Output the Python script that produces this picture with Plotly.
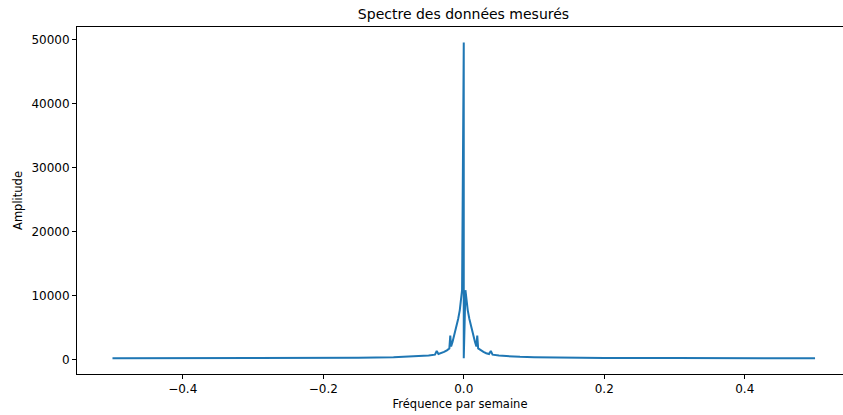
import plotly.graph_objects as go

# Frequencies (per week) and amplitudes
freq_pos = [0.0024, 0.004, 0.0057, 0.008, 0.010, 0.0117, 0.014, 0.016, 0.018,
            0.0192, 0.0205, 0.024, 0.028, 0.032, 0.036, 0.0385, 0.041,
            0.05, 0.06, 0.08, 0.10, 0.15, 0.2, 0.3, 0.4, 0.5]
amp_pos = [10800, 9100, 7650, 6300, 5300, 4500, 3500, 2700, 2000,
           3700, 1700, 1400, 1150, 950, 820, 1300, 720,
           580, 480, 380, 320, 240, 210, 185, 175, 170]

freq_neg = [-0.5, -0.4, -0.3, -0.2, -0.15, -0.10, -0.08, -0.06, -0.05,
            -0.041, -0.0385, -0.036, -0.032, -0.028, -0.024, -0.0205, -0.0192,
            -0.018, -0.016, -0.014, -0.0117, -0.010, -0.008, -0.0057, -0.004, -0.0024]
amp_neg = [170, 175, 185, 210, 240, 320, 380, 480, 580,
           720, 1300, 820, 950, 1150, 1400, 1700, 3700,
           2000, 2700, 3500, 4500, 5300, 6300, 7650, 9100, 10800]

freq_center = [0.0, 0.0]
amp_center = [49500, 150]

freqs = freq_neg + freq_center + freq_pos
amps = amp_neg + amp_center + amp_pos

x_ticks = [-0.4, -0.2, 0.0, 0.2, 0.4]
x_tick_labels = ["\u22120.4", "\u22120.2", "0.0", "0.2", "0.4"]
y_ticks = [0, 10000, 20000, 30000, 40000, 50000]

fig = go.Figure()
fig.add_trace(go.Scatter(
    x=freqs, y=amps, mode="lines",
    line=dict(color="#1f77b4", width=2),
    showlegend=False, hoverinfo="skip",
))

font = "DejaVu Sans"
fig.update_layout(
    width=843, height=415,
    margin=dict(l=77, r=0, t=27, b=41, autoexpand=False),
    paper_bgcolor="white", plot_bgcolor="white",
    font=dict(family=font, size=12, color="black"),
    title=dict(text="Spectre des données mesurés", x=463.5 / 843, xref="container",
               xanchor="center", y=1 - 14 / 415, yref="container", yanchor="middle",
               font=dict(family=font, size=14, color="black")),
)
fig.update_xaxes(
    range=[-0.5505, 0.5398], showgrid=False, zeroline=False,
    showline=True, linecolor="black", linewidth=1, mirror=True,
    ticks="outside", ticklen=4, tickcolor="black", tickwidth=1,
    tickvals=x_ticks, ticktext=x_tick_labels,
    tickfont=dict(family=font, size=12),
    title=dict(text="Fréquence par semaine", standoff=4, font=dict(family=font, size=11.5)),
    automargin=False,
)
fig.update_yaxes(
    range=[-2297, 51922], showgrid=False, zeroline=False,
    showline=True, linecolor="black", linewidth=1,
    ticks="outside", ticklen=4, tickcolor="black", tickwidth=1,
    tickvals=y_ticks, tickformat="d",
    tickfont=dict(family=font, size=12),
    title=dict(text="Amplitude", standoff=6, font=dict(family=font, size=11.5)),
    automargin=False,
)

fig.write_html("out.html",
               config={"displayModeBar": False, "staticPlot": True},
               post_script="document.body.style.margin='0';document.body.style.padding='0';")
